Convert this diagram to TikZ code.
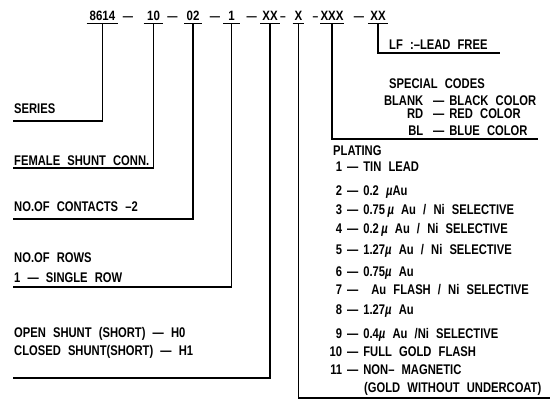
\documentclass[tikz,border=0pt]{standalone}
\usepackage{fontspec}
\setmainfont{Liberation Sans Bold}[FakeStretch=0.8,WordSpace=2.3]
\newfontfamily\codefont{Liberation Sans Bold}[FakeStretch=0.85]
\newfontfamily\mufont{Liberation Sans Bold Italic}[FakeStretch=0.8]
\newcommand\platerow[2]{\makebox[20pt][r]{#1}\hspace{5pt}—\hspace{5pt}#2}
\newcommand\mymu{{\mufont µ}}
\begin{document}
\begin{tikzpicture}[x=1pt,y=-1pt,
  txt/.style={font=\fontsize{14}{16}\selectfont, inner sep=0pt, anchor=base west},
  code/.style={font=\codefont\fontsize{13.5}{16}\selectfont, inner xsep=0pt, inner ysep=2.5pt, text depth=0pt, anchor=base},
  dsh/.style={font=\codefont\fontsize{12}{16}\selectfont, inner sep=0pt, anchor=base},
  ln/.style={line width=1.6pt},
  ul/.style={line width=1.4pt}]
\useasboundingbox (0,0) rectangle (551,405);
% code line
\node[code, minimum width=31.5pt] (c1) at (102.5,20.5) {8614};
\node[code, minimum width=19.5pt] (c2) at (153.5,20.5) {10};
\node[code, minimum width=17pt] (c3) at (193,20.5) {02};
\node[code, minimum width=16pt] (c4) at (231.5,20.5) {1};
\node[code, minimum width=19pt] (c5) at (270,20.5) {XX};
\node[code, minimum width=11.5pt] (c6) at (298.5,20.5) {X};
\node[code, minimum width=22pt] (c7) at (332,20.5) {XXX};
\node[code, minimum width=20pt] (c8) at (378,20.5) {XX};
\node[dsh] (d1) at (128,20.5) {—};
\node[dsh] (d2) at (172.5,20.5) {—};
\node[dsh] (d3) at (215,20.5) {—};
\node[dsh] (d4) at (251.7,20.5) {—};
\node[dsh] (d5) at (283,20.5) {–};
\node[dsh] (d6) at (315.5,20.5) {–};
\node[dsh] (d7) at (359,20.5) {—};
\foreach \n in {c1,c2,c3,c4,c5,c6,c7,c8}
  \draw[ul] (\n.south west) -- (\n.south east);
% connector ends
\coordinate (e1) at (13,121);
\coordinate (e2) at (13,168);
\coordinate (e3) at (13,219);
\coordinate (e4) at (13,287);
\coordinate (e5) at (13,378);
\coordinate (e6) at (550,398);
\coordinate (e7) at (538,139);
\coordinate (e8) at (500,53);
\draw[ln] (c1.south) |- (e1);
\draw[ln] (c2.south) |- (e2);
\draw[ln] (c3.south) |- (e3);
\draw[ln] (c4.south) |- (e4);
\draw[ln] (c5.south) |- (e5);
\draw[ln] (c6.south) |- (e6);
\draw[ln] (c7.south) |- (e7);
\draw[ln] (c8.south) |- (e8);
% left labels
\node[txt] (series) at (14,113) {SERIES};
\node[txt] (female) at (14,165) {FEMALE SHUNT CONN.};
\node[txt] (contacts) at (14,211) {NO.OF CONTACTS –2};
\node[txt] (rows) at (14,262) {NO.OF ROWS};
\node[txt] (single) at (14,282) {1 — SINGLE ROW};
\node[txt] (open) at (14,337) {OPEN SHUNT (SHORT) — H0};
\node[txt] (closed) at (14,355) {CLOSED SHUNT(SHORT) — H1};
% right labels
\node[txt] (lf) at (389,49.5) {LF :–LEAD FREE};
\node[txt] (special) at (389,88) {SPECIAL CODES};
\node[txt] (blank) at (383,105) {\makebox[40pt][r]{BLANK}\hspace{10pt}—\hspace{5pt}BLACK COLOR};
\node[txt] (rd) at (383,118) {\makebox[40pt][r]{RD}\hspace{10pt}—\hspace{5pt}RED COLOR};
\node[txt] (bl) at (383,135) {\makebox[40pt][r]{BL}\hspace{10pt}—\hspace{5pt}BLUE COLOR};
% plating
\node[txt] (plating) at (333,155) {PLATING};
\node[txt] (p1) at (322,171) {\platerow{1}{TIN LEAD}};
\node[txt] (p2) at (322,195) {\platerow{2}{0.2 \mymu Au}};
\node[txt] (p3) at (322,214) {\platerow{3}{0.75\,\mymu\ Au / Ni SELECTIVE}};
\node[txt] (p4) at (322,233) {\platerow{4}{0.2\,\mymu\ Au / Ni SELECTIVE}};
\node[txt] (p5) at (322,254) {\platerow{5}{1.27\mymu\ Au / Ni SELECTIVE}};
\node[txt] (p6) at (322,276) {\platerow{6}{0.75\mymu\ Au}};
\node[txt] (p7) at (322,294) {\platerow{7}{\hspace{8pt}Au FLASH / Ni SELECTIVE}};
\node[txt] (p8) at (322,314) {\platerow{8}{1.27\mymu\ Au}};
\node[txt] (p9) at (322,338) {\platerow{9}{0.4\mymu\ Au /Ni SELECTIVE}};
\node[txt] (p10) at (322,356) {\platerow{10}{FULL GOLD FLASH}};
\node[txt] (p11) at (322,374) {\platerow{11}{NON– MAGNETIC}};
\node[txt] (p11b) at (364,392) {(GOLD WITHOUT UNDERCOAT)};
\end{tikzpicture}
\end{document}
